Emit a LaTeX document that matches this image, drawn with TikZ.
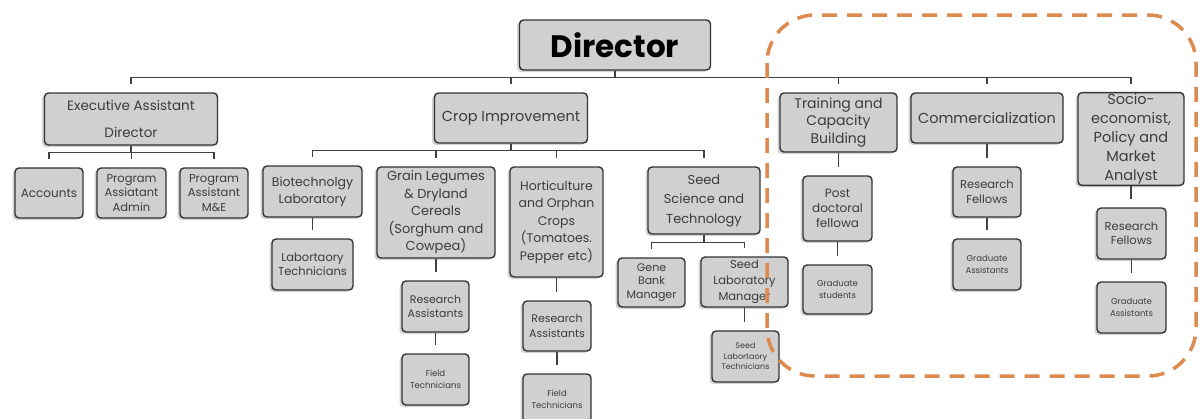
\documentclass[tikz,border=0pt]{standalone}
\usepackage{fontspec}
\setmainfont{Poppins}
\usetikzlibrary{shadows}
\definecolor{boxgray}{RGB}{208,208,208}
\definecolor{textgray}{RGB}{60,60,60}
\definecolor{frameorange}{RGB}{222,138,78}
\newcommand{\fsz}[2]{\fontsize{#1}{#2}\selectfont}

\begin{document}
\begin{tikzpicture}[x=1pt,y=-1pt,
      box/.style ={rectangle, draw=black!80, line width=1.4pt, rounded corners=4pt,
                   fill=boxgray, text=textgray, align=center, inner sep=1pt,
                   drop shadow={shadow xshift=-2.5pt, shadow yshift=-2pt, opacity=.35, fill=black!50}},
      conn/.style ={draw=black!75, line width=1.2pt},
      tick/.style ={conn, shorten >=8pt}]
   \useasboundingbox (0,0) rectangle (1200,418);
   % top level
   \node[box, minimum width=191, minimum height=50, text=black,
         font=\fsz{31}{34}\bfseries] (dir) at (615,45) {Director};
   \node[box, minimum width=173, minimum height=52, font=\fsz{13.5}{27}] (ead) at (131,119)
        {Executive Assistant\\Director};
   \node[box, minimum width=153, minimum height=50, font=\fsz{14.5}{16}] (crop) at (511,118)
        {Crop Improvement};
   \node[box, minimum width=117, minimum height=59, font=\fsz{14}{17.5}] (tcb) at (838.5,122.5)
        {Training and\\Capacity\\Building};
   \node[box, minimum width=152, minimum height=50, font=\fsz{14.5}{16}] (comm) at (987,118)
        {Commercialization};
   \node[box, minimum width=106, minimum height=92, font=\fsz{14.5}{19}] (socio) at (1131,139)
        {Socio-\\economist,\\Policy and\\Market\\Analyst};
   % executive assistant director
   \node[box, minimum width=68, minimum height=50, font=\fsz{12}{13}] (acc) at (49,193) {Accounts};
   \node[box, minimum width=69, minimum height=50, font=\fsz{11.5}{14.5}] (paa) at (131.5,193)
        {Program\\Assiatant\\Admin};
   \node[box, minimum width=68, minimum height=50, font=\fsz{11.5}{14.5}] (pam) at (214,193)
        {Program\\Assistant\\M\&E};
   % crop improvement
   \node[box, minimum width=99, minimum height=51, font=\fsz{12.5}{17}] (bio) at (312.5,191.5)
        {Biotechnolgy\\Laboratory};
   \node[box, minimum width=118, minimum height=91, font=\fsz{13}{17.5}] (grain) at (436,212.5)
        {Grain Legumes\\\& Dryland\\Cereals\\(Sorghum and\\Cowpea)};
   \node[box, minimum width=93, minimum height=110, font=\fsz{12.5}{17.5}] (hort) at (556.5,222)
        {Horticulture\\and Orphan\\Crops\\(Tomatoes.\\Pepper etc)};
   \node[box, minimum width=112, minimum height=67, font=\fsz{13}{19.5}] (seed) at (704,200.5)
        {Seed\\Science and\\Technology};
   \node[box, minimum width=81, minimum height=51, font=\fsz{11.5}{13.5}] (labt) at (312.5,264.5)
        {Labortaory\\Technicians};
   \node[box, minimum width=67, minimum height=51, font=\fsz{11}{14.5}] (ra1) at (435.5,306.5)
        {Research\\Assistants};
   \node[box, minimum width=67, minimum height=51, font=\fsz{8.5}{12}] (ft1) at (435.5,379.5)
        {Field\\Technicians};
   \node[box, minimum width=68, minimum height=50, font=\fsz{11}{14.5}] (ra2) at (557,326)
        {Research\\Assistants};
   \node[box, minimum width=68, minimum height=50, font=\fsz{8.5}{12}] (ft2) at (557,399)
        {Field\\Technicians};
   \node[box, minimum width=67, minimum height=49, font=\fsz{11}{13.5}] (gene) at (651.5,282.5)
        {Gene\\Bank\\Manager};
   \node[box, minimum width=87, minimum height=50, font=\fsz{11.5}{16}] (slm) at (744.5,282)
        {Seed\\Laboratory\\Manager};
   \node[box, minimum width=67, minimum height=51, font=\fsz{8}{10.5}] (slt) at (745.5,356.5)
        {Seed\\Labortaory\\Technicians};
   % training, commercialization, socio-economics
   \node[box, minimum width=69, minimum height=65, font=\fsz{12}{15}] (pdf) at (837.5,208.5)
        {Post\\doctoral\\fellowa};
   \node[box, minimum width=69, minimum height=49, font=\fsz{8.5}{11.5}] (gs) at (837.5,289.5)
        {Graduate\\students};
   \node[box, minimum width=68, minimum height=50, font=\fsz{11.5}{14.5}] (rf1) at (987,192)
        {Research\\Fellows};
   \node[box, minimum width=68, minimum height=51, font=\fsz{8.5}{11.5}] (ga1) at (987,264.5)
        {Graduate\\Assistants};
   \node[box, minimum width=69, minimum height=51, font=\fsz{11.5}{14.5}] (rf2) at (1131.5,233.5)
        {Research\\Fellows};
   \node[box, minimum width=69, minimum height=51, font=\fsz{8.5}{11.5}] (ga2) at (1131.5,307.5)
        {Graduate\\Assistants};
   % bars
   \foreach \c in {ead,crop,tcb,comm,socio}
      \draw[tick] (dir.south) -- ++(0,7) -| (\c.north);
   \foreach \c in {acc,paa,pam}
      \draw[tick] (ead.south) -- ++(0,7) -| (\c.north);
   \foreach \c in {bio,grain,hort,seed}
      \draw[tick] (crop.south) -- ++(0,7) -| (\c.north);
   \foreach \c in {gene,slm}
      \draw[tick] (seed.south) -- ++(0,8) -| (\c.north);
   % chains
   \foreach \a/\b in {bio/labt,grain/ra1,ra1/ft1,hort/ra2,ra2/ft2,slm/slt,
                      tcb/pdf,pdf/gs,comm/rf1,rf1/ga1,socio/rf2,rf2/ga2}
      \draw[tick] (\a.south) -- (\a.south |- \b.north);
   % highlighted group
   \draw[frameorange, line width=3.5pt, dash pattern=on 15pt off 10pt, rounded corners=48pt]
      (767,15) rectangle (1196,376);
 \end{tikzpicture}
\end{document}
